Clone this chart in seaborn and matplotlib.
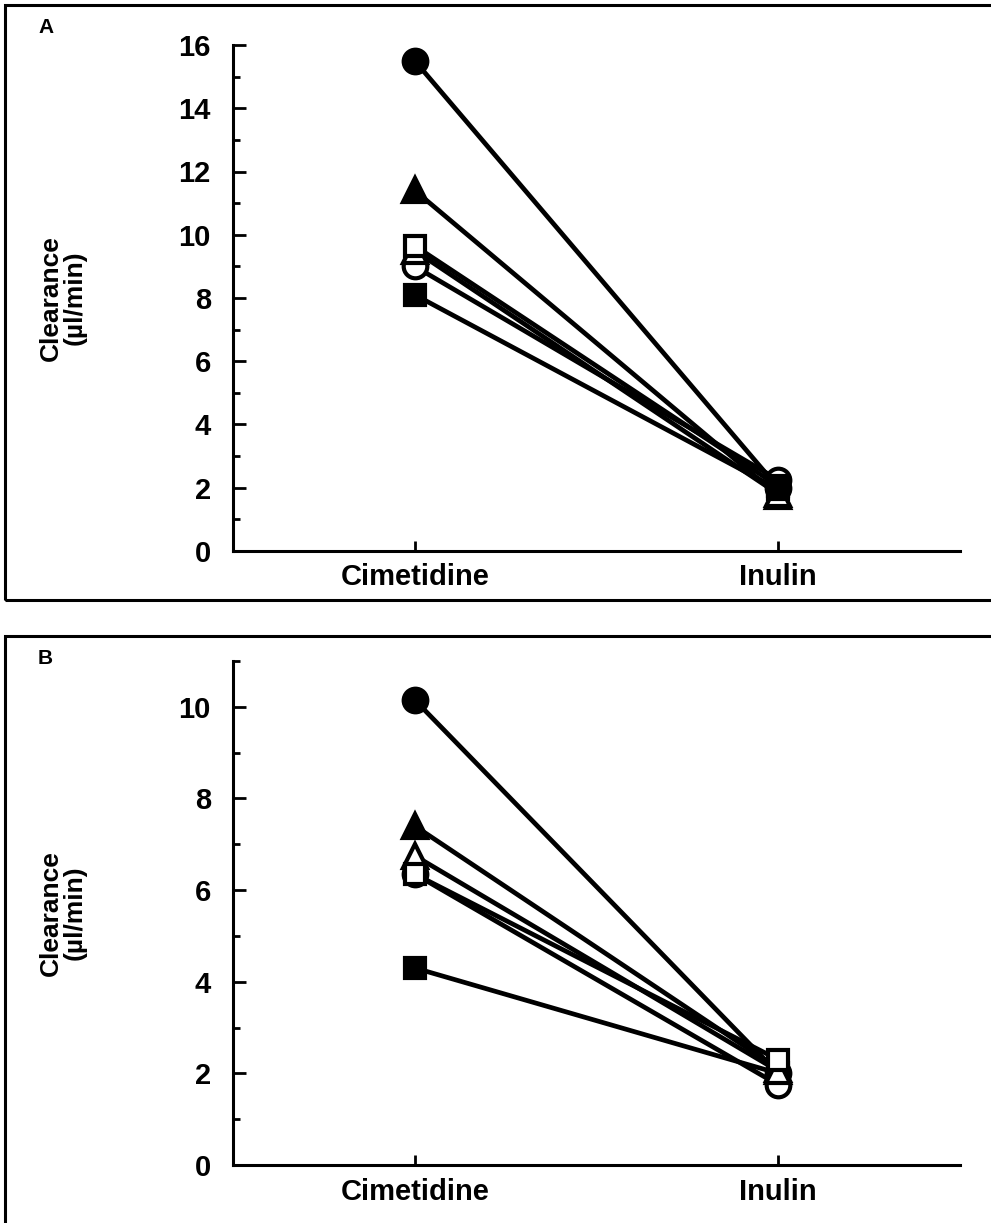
import matplotlib
matplotlib.use("Agg")
import matplotlib.pyplot as plt
import seaborn as sns
import pandas as pd
from matplotlib.patches import Rectangle
from matplotlib.ticker import MultipleLocator

sns.set_theme(style="white")
plt.rcParams['font.family'] = ['Liberation Sans', 'DejaVu Sans']
plt.rcParams['text.color'] = 'black'
plt.rcParams['axes.labelcolor'] = 'black'
plt.rcParams['xtick.color'] = 'black'
plt.rcParams['ytick.color'] = 'black'

drugs = ["Cimetidine", "Inulin"]
subjects = ["filled circle", "filled triangle", "open square", "open triangle", "open circle", "filled square"]
markers = ["o", "^", "s", "^", "o", "s"]
filled = [True, True, False, False, False, True]

panel_a_cimetidine = [15.5, 11.4, 9.65, 9.5, 9.0, 8.1]
panel_a_inulin = [2.0, 1.75, 2.05, 1.8, 2.25, 1.95]
panel_b_cimetidine = [10.15, 7.4, 6.35, 6.75, 6.35, 4.3]
panel_b_inulin = [2.0, 2.1, 2.3, 2.05, 1.75, 2.0]

ylabel = "Clearance\n(µl/min)"

W, H = 991, 1223
fig = plt.figure(figsize=(W / 100, H / 100), dpi=100)

def build_df(cim, inu):
    rows = []
    for s, c, i in zip(subjects, cim, inu):
        rows.append({"subject": s, "drug": drugs[0], "pos": 0, "value": c})
        rows.append({"subject": s, "drug": drugs[1], "pos": 1, "value": i})
    return pd.DataFrame(rows)

def draw_panel(rect, cim, inu, ymax, letter, box, zorders):
    fig.patches.append(Rectangle((box[0] / W, 1 - box[3] / H), (box[2] - box[0]) / W,
                                 (box[3] - box[1]) / H, transform=fig.transFigure,
                                 fill=False, edgecolor="black", linewidth=2.2))
    ax = fig.add_axes(rect)
    df = build_df(cim, inu)
    for k, s in enumerate(subjects):
        sub = df[df["subject"] == s]
        sns.lineplot(data=sub, x="pos", y="value", ax=ax, color="black", linewidth=3.4,
                     marker=markers[k], markersize=17 if markers[k] != "s" else 15,
                     markerfacecolor="black" if filled[k] else "white",
                     markeredgecolor="black", markeredgewidth=3.0,
                     zorder=zorders[k], legend=False)
    ax.set_xlim(-0.5, 1.5)
    ax.set_ylim(0, ymax)
    ax.set_xticks([0, 1])
    ax.set_xticklabels(drugs, fontsize=21, fontweight="bold")
    ax.yaxis.set_minor_locator(MultipleLocator(1))
    yt = list(range(0, int(ymax) + 1, 2))
    ax.set_yticks(yt)
    ax.set_yticklabels([str(v) for v in yt], fontsize=21, fontweight="bold")
    ax.tick_params(axis="y", which="major", direction="in", length=9, width=2, pad=16, left=True)
    ax.tick_params(axis="y", which="minor", direction="in", length=5, width=2, left=True)
    ax.tick_params(axis="x", which="major", direction="in", length=7, width=2, pad=9, bottom=True)
    for sp in ["top", "right"]:
        ax.spines[sp].set_visible(False)
    for sp in ["left", "bottom"]:
        ax.spines[sp].set_linewidth(2.2)
        ax.spines[sp].set_color("black")
    ax.set_xlabel("")
    ax.set_ylabel(ylabel, fontsize=19, fontweight="bold", labelpad=66, linespacing=1.0)
    ax.grid(False)
    ax.set_facecolor("none")
    fig.text(38 / W, 1 - box[1] / H - 0.011, letter, fontsize=15, fontweight="bold",
             ha="left", va="top")
    return ax

draw_panel([233 / W, 1 - 551 / H, 727 / W, 506 / H], panel_a_cimetidine, panel_a_inulin,
           16, "A", (5, 5, 1000, 600), [3, 3, 5, 4.5, 4, 6])
draw_panel([233 / W, 1 - 1165 / H, 727 / W, 504 / H], panel_b_cimetidine, panel_b_inulin,
           11, "B", (5, 636, 1000, 1240), [3, 3, 5, 4.5, 4, 3])

fig.savefig("out.png", dpi=100, facecolor="white")
